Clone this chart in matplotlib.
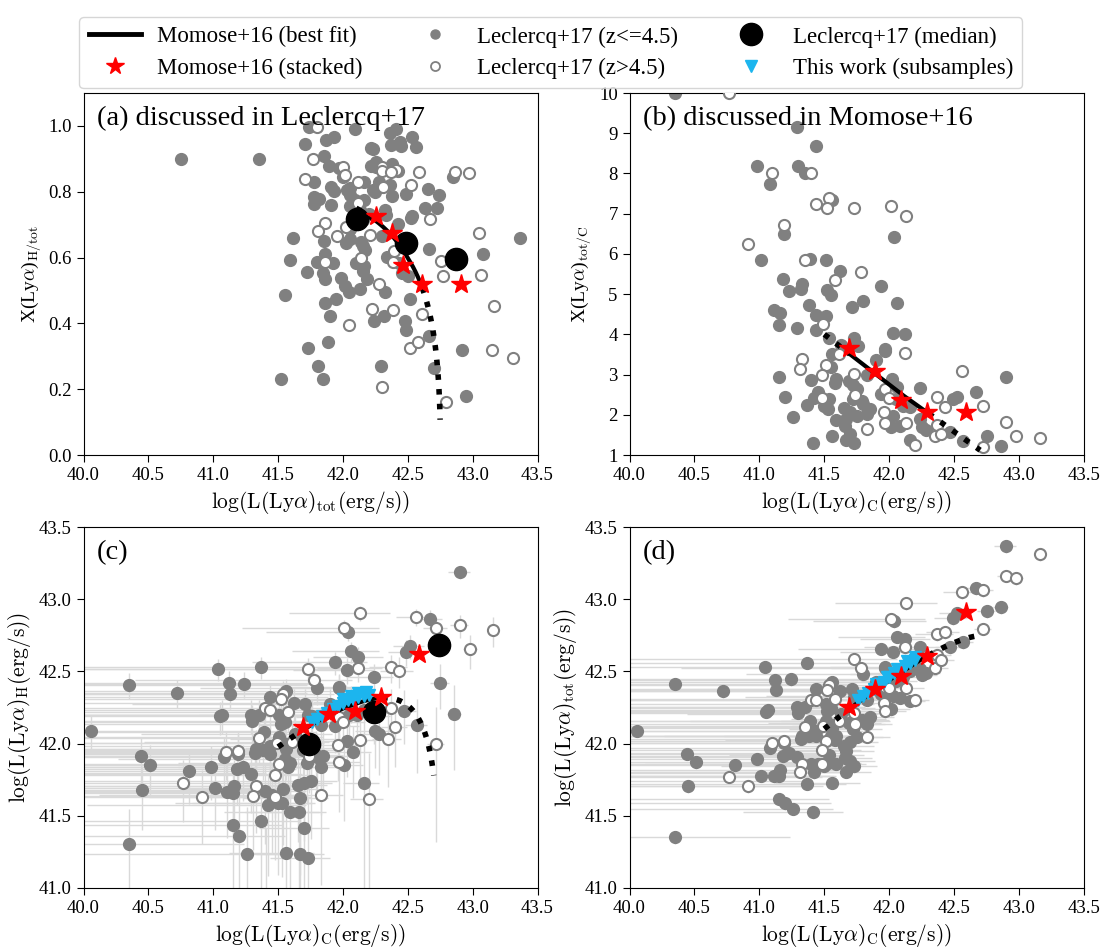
import numpy as np
import matplotlib
matplotlib.use("Agg")
import matplotlib.pyplot as plt
from matplotlib.lines import Line2D

plt.rcParams['font.family'] = ['Liberation Serif', 'DejaVu Serif']
plt.rcParams['mathtext.fontset'] = 'cm'

lowz_logLC = [
    41.29, 41.44, 40.98, 41.08, 41.30, 41.35, 41.56, 41.19, 42.04, 41.01,
    41.39, 41.51, 41.62, 41.18, 41.33, 41.23, 41.32, 41.52, 41.55, 41.94,
    41.80, 42.06, 41.11, 41.16, 41.38, 41.71, 41.44, 41.51, 41.15, 41.29,
    41.44, 42.03, 42.12, 41.54, 41.73, 41.63, 41.76, 41.56, 41.97, 41.97,
    41.55, 41.15, 41.40, 41.59, 41.58, 41.69, 41.83, 41.90, 42.02, 42.06,
    41.72, 41.75, 42.90, 42.24, 42.67, 41.20, 41.45, 41.42, 41.54, 41.37,
    41.50, 41.53, 41.65, 41.70, 41.72, 41.79, 41.80, 41.85, 41.83, 41.94,
    42.05, 42.11, 42.16, 42.01, 42.08, 41.26, 41.59, 41.67, 41.75, 41.66,
    41.56, 41.70, 41.67, 41.73, 41.41, 42.16, 42.25, 42.28, 42.49, 42.52,
    42.47, 42.57, 42.75, 42.86, 42.24, 42.03,
    40.06, 40.35, 40.44, 40.51, 40.45, 40.72, 40.81, 41.04, 41.12, 41.13,
    41.05, 41.07, 41.24, 41.37, 40.35, 39.75, 39.30]
lowz_ratio = [
    9.15, 8.69, 8.18, 7.75, 8.18, 8.00, 7.33, 6.50, 6.42, 5.85,
    5.87, 5.84, 5.57, 5.38, 5.26, 5.07, 5.12, 5.11, 4.99, 5.21,
    4.82, 4.79, 4.61, 4.52, 4.74, 4.67, 4.47, 4.46, 4.24, 4.16,
    4.10, 4.03, 4.01, 3.92, 3.92, 3.73, 3.71, 3.52, 3.64, 3.59,
    3.19, 2.93, 2.87, 2.90, 2.80, 2.83, 2.98, 3.35, 2.90, 2.69,
    2.73, 2.65, 2.93, 2.67, 2.56, 2.45, 2.56, 2.42, 2.40, 2.25,
    2.23, 2.15, 2.16, 2.06, 2.40, 2.35, 2.27, 2.15, 2.02, 2.52,
    2.40, 2.23, 2.19, 1.69, 1.73, 1.95, 1.86, 1.90, 1.98, 1.73,
    1.48, 1.52, 1.37, 1.30, 1.30, 1.37, 1.69, 1.61, 2.40, 2.44,
    1.57, 1.36, 1.47, 1.22, 1.90, 1.98,
    107, 115, 31, 23, 18, 44, 11, 31, 21, 17.4,
    14.8, 14.5, 16, 15.5, 10.0, 10.0, 275]

# Leclercq+17 (z>4.5)
highz_logLC = [
    40.77, 41.10, 41.40, 41.44, 41.54, 41.52, 41.73, 42.01, 42.13, 41.19,
    40.91, 41.35, 41.58, 41.78, 41.49, 41.61, 42.12, 41.33, 41.31, 41.51,
    41.48, 41.73, 42.56, 41.48, 41.74, 41.97, 42.00, 41.96, 41.97, 42.13,
    41.83, 42.20, 42.37, 42.43, 42.37, 42.35, 42.40, 42.72, 42.72, 42.90,
    42.98, 43.16, 39.40]
highz_ratio = [
    10.0, 8.0, 8.0, 7.23, 7.40, 7.14, 7.13, 7.18, 6.95, 6.72,
    6.25, 5.85, 5.36, 5.54, 4.26, 3.51, 3.54, 3.39, 3.13, 3.24,
    3.00, 3.01, 3.08, 2.41, 2.50, 2.63, 2.42, 2.08, 1.80, 1.79,
    1.65, 1.26, 2.44, 2.19, 1.75, 1.48, 1.52, 2.21, 1.19, 1.83,
    1.47, 1.42, 250]

# error model: log sigma_C = norm + 0.5 log L_tot
LOG_ERR_NORM = 20.5
TOT_ERR_FRAC = 0.1

# Momose+16 best fit (panel b) and stacked points
fit_lc = [41.5, 42.1, 42.7]
fit_ratio = [4.0, 2.5, 1.12]
stack_lc = [41.69, 41.89, 42.09, 42.29, 42.59]
stack_ratio = [3.66, 3.08, 2.37, 2.08, 2.08]

# Leclercq+17 medians
med_a_x = [42.11, 42.49, 42.87]
med_a_y = [0.716, 0.645, 0.597]
med_c_x = [41.74, 42.24, 42.74]
med_c_y = [42.00, 42.22, 42.68]

# this work (subsamples)
sub_c_x = [41.76, 41.80, 41.84, 41.88, 41.92, 41.96, 42.00, 42.04, 42.08, 42.12,
           42.16, 42.20, 42.00, 42.06, 42.12, 42.18]
sub_c_y = [42.15, 42.17, 42.19, 42.21, 42.24, 42.26, 42.28, 42.30, 42.31, 42.32,
           42.33, 42.34, 42.31, 42.33, 42.35, 42.36]
sub_d_x = [41.76, 41.80, 41.84, 41.88, 41.92, 41.96, 42.00, 42.04, 42.08, 42.12,
           42.16, 42.20, 41.90, 41.98, 42.06, 42.14, 42.20]
sub_d_y = [42.30, 42.33, 42.35, 42.38, 42.41, 42.43, 42.46, 42.49, 42.51, 42.54,
           42.56, 42.58, 42.41, 42.46, 42.52, 42.57, 42.60]

GREY = '#808080'
ECOL = '#d9d9d9'
CYAN = '#1cb5ee'


def coords(lc, r, panel):
    lc = np.asarray(lc, float)
    r = np.asarray(r, float)
    if panel == 'a':
        return lc + np.log10(r), 1 - 1 / r
    if panel == 'b':
        return lc, r
    if panel == 'c':
        return lc, lc + np.log10(r - 1)
    return lc, lc + np.log10(r)


def errors(lc, r, panel):
    lc = np.asarray(lc, float)
    r = np.asarray(r, float)
    ltot = lc + np.log10(r)
    sig = 10 ** (LOG_ERR_NORM + 0.5 * ltot)
    f = sig / 10 ** lc
    xlo = np.where(f < 1, -np.log10(np.clip(1 - f, 1e-6, None)), 6)
    xhi = np.log10(1 + f)
    if panel == 'c':
        fh = sig / (10 ** ltot - 10 ** lc)
        ylo = np.where(fh < 1, -np.log10(np.clip(1 - fh, 1e-6, None)), 6)
        yhi = np.log10(1 + fh)
    else:
        ylo = -np.log10(1 - TOT_ERR_FRAC) * np.ones_like(lc)
        yhi = np.log10(1 + TOT_ERR_FRAC) * np.ones_like(lc)
    return [xlo, xhi], [ylo, yhi]


fig = plt.figure(figsize=(11.04, 9.51), dpi=100)
W, H = 1104, 951
boxes = {'a': (83.5, 93, 537.5, 455), 'b': (629.5, 93, 1084, 455),
         'c': (83.5, 527, 537.5, 888), 'd': (629.5, 527, 1084, 888)}
axes = {}
for k, (l, t, r, b) in boxes.items():
    axes[k] = fig.add_axes([l / W, 1 - b / H, (r - l) / W, (b - t) / H])

lab_tot = r'$\mathrm{log(L(Ly}\alpha\mathrm{)_{tot}(erg/s))}$'
lab_c = r'$\mathrm{log(L(Ly}\alpha\mathrm{)_{C}(erg/s))}$'
lab_h = r'$\mathrm{log(L(Ly}\alpha\mathrm{)_{H}(erg/s))}$'

lc_line = np.linspace(41.5, 42.7, 300)
r_line = np.interp(lc_line, fit_lc, fit_ratio)
segs = [((41.5, 41.7), ':'), ((41.7, 42.3), '-'), ((42.3, 42.7), ':')]

for k, ax in axes.items():
    if k in ('c', 'd'):
        for lcs, rs in ((lowz_logLC, lowz_ratio), (highz_logLC, highz_ratio)):
            x, y = coords(lcs, rs, k)
            xe, ye = errors(lcs, rs, k)
            ax.errorbar(x, y, xerr=xe, yerr=ye, fmt='none', ecolor=ECOL,
                        elinewidth=1, zorder=1)
    x, y = coords(lowz_logLC, lowz_ratio, k)
    ax.plot(x, y, 'o', color=GREY, ms=8.5, zorder=2)
    x, y = coords(highz_logLC, highz_ratio, k)
    ax.plot(x, y, 'o', mfc='white', mec=GREY, mew=1.5, ms=8, zorder=3)

    for (lo, hi), ls in segs:
        m = (lc_line >= lo) & (lc_line <= hi)
        x, y = coords(lc_line[m], r_line[m], k)
        ax.plot(x, y, color='k', ls=ls, lw=4 if ls == ':' else 3, zorder=4)

    if k == 'c':
        ax.plot(sub_c_x, sub_c_y, 'v', color=CYAN, ms=8, zorder=5)
    if k == 'd':
        ax.plot(sub_d_x, sub_d_y, 'v', color=CYAN, ms=8, zorder=5)
    if k == 'a':
        ax.plot(med_a_x, med_a_y, 'o', color='k', ms=16, zorder=6)
    if k == 'c':
        ax.plot(med_c_x, med_c_y, 'o', color='k', ms=16, zorder=6)

    x, y = coords(stack_lc, stack_ratio, k)
    ax.plot(x, y, '*', color='red', ms=15, mec='red', zorder=7)

    ax.set_xlim(40, 43.5)
    ax.set_xticks(np.arange(40, 43.51, 0.5))
    ax.set_xticklabels(['%.1f' % v for v in np.arange(40, 43.51, 0.5)])
    ax.tick_params(labelsize=13.5, direction='out', length=5)

axes['a'].set_ylim(0, 1.1)
axes['a'].set_yticks(np.arange(0, 1.01, 0.2))
axes['a'].set_yticklabels(['%.1f' % v for v in np.arange(0, 1.01, 0.2)])
axes['b'].set_ylim(1, 10)
axes['b'].set_yticks(range(1, 11))
for k in ('c', 'd'):
    axes[k].set_ylim(41, 43.5)
    axes[k].set_yticks(np.arange(41, 43.51, 0.5))
    axes[k].set_yticklabels(['%.1f' % v for v in np.arange(41, 43.51, 0.5)])

axes['a'].set_xlabel(lab_tot, fontsize=15.5)
axes['a'].set_ylabel(r'X(Ly$\alpha$)$_{\rm H/tot}$', fontsize=14)
axes['b'].set_xlabel(lab_c, fontsize=15.5)
axes['b'].set_ylabel(r'X(Ly$\alpha$)$_{\rm tot/C}$', fontsize=14)
axes['c'].set_xlabel(lab_c, fontsize=15.5)
axes['c'].set_ylabel(lab_h, fontsize=15.5)
axes['d'].set_xlabel(lab_c, fontsize=15.5)
axes['d'].set_ylabel(lab_tot, fontsize=15.5)

titles = {'a': '(a) discussed in Leclercq+17', 'b': '(b) discussed in Momose+16',
          'c': '(c)', 'd': '(d)'}
for k, t in titles.items():
    axes[k].text(0.03, 0.93, t, transform=axes[k].transAxes, fontsize=20.5,
                 va='center', ha='left', zorder=10)

handles = [
    Line2D([], [], color='k', lw=3.5, label='Momose+16 (best fit)'),
    Line2D([], [], ls='none', marker='*', color='red', ms=13, label='Momose+16 (stacked)'),
    Line2D([], [], ls='none', marker='o', color=GREY, ms=6.5, label='Leclercq+17 (z<=4.5)'),
    Line2D([], [], ls='none', marker='o', mfc='white', mec=GREY, mew=1.3, ms=6.5,
           label='Leclercq+17 (z>4.5)'),
    Line2D([], [], ls='none', marker='o', color='k', ms=16, label='Leclercq+17 (median)'),
    Line2D([], [], ls='none', marker='v', color=CYAN, ms=8, label='This work (subsamples)'),
]
fig.legend(handles=handles, ncol=3, loc='upper center', bbox_to_anchor=(0.499, 0.994),
           fontsize=16.5, frameon=True, edgecolor='#cccccc', handlelength=2.3,
           handletextpad=0.7, columnspacing=2.0, labelspacing=0.45, borderpad=0.4)

fig.savefig('out.png', dpi=100)
